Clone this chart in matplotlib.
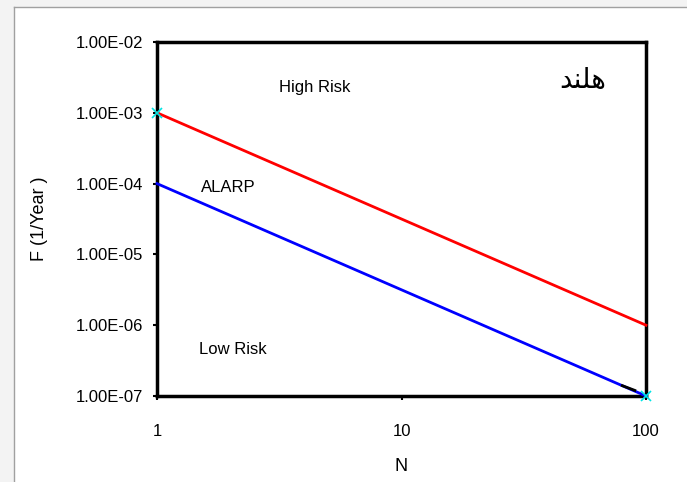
import matplotlib
matplotlib.use("Agg")
import matplotlib.pyplot as plt
from matplotlib.patches import Rectangle
from matplotlib.lines import Line2D

# Risk criteria lines (N vs. frequency F)
n_upper = [1, 100]
f_upper = [1e-3, 1e-6]
n_lower = [1, 100]
f_lower = [1e-4, 1e-7]
n_marks = [1, 100]
f_marks = [1e-3, 1e-7]
n_black = [80, 90]
f_black = [1.4e-7, 1.2e-7]

y_ticks = [1e-7, 1e-6, 1e-5, 1e-4, 1e-3, 1e-2]
y_tick_labels = ["1.00E-07", "1.00E-06", "1.00E-05", "1.00E-04", "1.00E-03", "1.00E-02"]
x_ticks = [1, 10, 100]
x_tick_labels = ["1", "10", "100"]

region_labels = ["High Risk", "ALARP", "Low Risk"]
region_pos = [(4.4, 2.25e-3), (1.95, 8.7e-5), (2.05, 4.6e-7)]
country = "\uFEAA\uFEE8\uFEE0\uFEEB"  # هلند in shaped, visual order

plt.rcParams['font.family'] = ['Liberation Sans', 'DejaVu Sans']

fig = plt.figure(figsize=(6.87, 4.82), dpi=100)
fig.patch.set_facecolor("white")
W, H = 687, 482
# light outer frame
fig.patches.append(Rectangle((0, 0), 14 / W, 1, transform=fig.transFigure,
                             facecolor="#f3f3f3", edgecolor="none", zorder=0))
fig.patches.append(Rectangle((0, 1 - 7 / H), 1, 7 / H, transform=fig.transFigure,
                             facecolor="#f3f3f3", edgecolor="none", zorder=0))
fig.lines.append(Line2D([14 / W, 14 / W], [0, 1 - 7 / H], transform=fig.transFigure,
                        color="#a0a0a0", lw=1))
fig.lines.append(Line2D([14 / W, 1], [1 - 7 / H, 1 - 7 / H], transform=fig.transFigure,
                        color="#a0a0a0", lw=1))

ax = fig.add_axes([157 / W, 1 - 396 / H, (646 - 157) / W, (396 - 42) / H])
ax.set_xscale("log")
ax.set_yscale("log")
ax.set_xlim(1, 100)
ax.set_ylim(1e-7, 1e-2)

ax.plot(n_upper, f_upper, color="#ff0000", lw=2, clip_on=False, zorder=3)
ax.plot(n_lower, f_lower, color="#0000ff", lw=2, clip_on=False, zorder=3)
ax.plot(n_black, f_black, color="black", lw=2, zorder=3)
ax.plot(n_marks, f_marks, linestyle="none", marker="x", color="#00e5e5",
        ms=7, mew=1.2, clip_on=False, zorder=4)

for s in ax.spines.values():
    s.set_linewidth(2.5)
    s.set_color("black")

ax.set_yticks(y_ticks)
ax.set_yticklabels(y_tick_labels)
ax.set_xticks(x_ticks)
ax.set_xticklabels(x_tick_labels)
ax.minorticks_off()
ax.tick_params(axis="y", direction="out", length=3, width=1.5, labelsize=12, pad=7)
ax.tick_params(axis="x", direction="out", length=3, width=1.5, labelsize=12, pad=17)

ax.set_xlabel("N", fontsize=13, labelpad=14)
ax.set_ylabel("F (1/Year )", fontsize=13, labelpad=20)

for txt, (x, y) in zip(region_labels, region_pos):
    ax.text(x, y, txt, fontsize=12, ha="center", va="center")
ax.text(55, 2.9e-3, country, fontsize=20, ha="center", va="center",
        family=["DejaVu Sans"])

fig.savefig("out.png", dpi=100)
